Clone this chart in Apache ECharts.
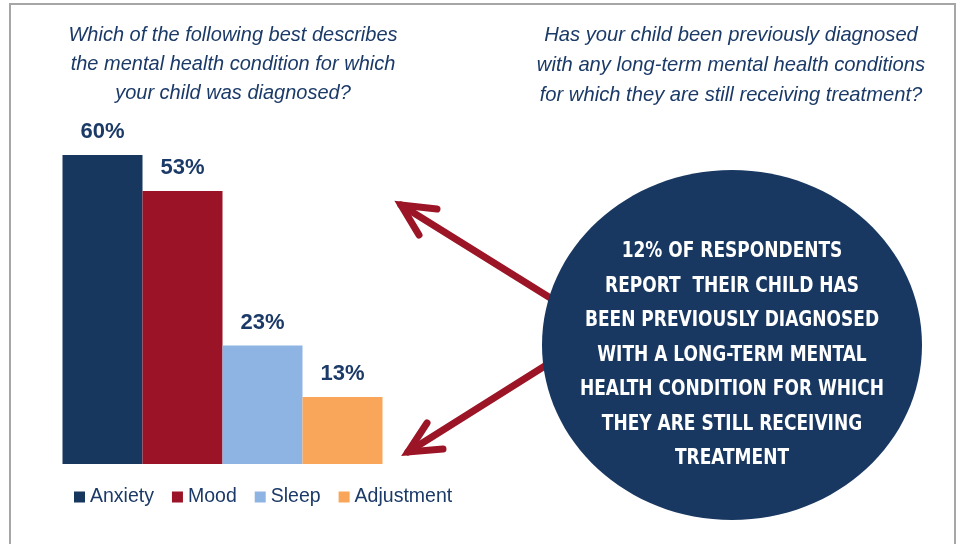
<!DOCTYPE html>
<html>
<head>
<meta charset="utf-8">
<script src="https://cdn.jsdelivr.net/npm/echarts@6/dist/echarts.min.js"></script>
<style>
  html, body { margin: 0; padding: 0; background: #fff; }
  #chart { width: 961px; height: 544px; }
</style>
</head>
<body>
<div id="chart"></div>
<script>
var categories = ['Diagnosed condition'];
var seriesNames = ['Anxiety', 'Mood', 'Sleep', 'Adjustment'];
var anxiety = [60];
var mood = [53];
var sleep = [23];
var adjustment = [13];
var colors = ['#17375e', '#9b1326', '#8eb4e3', '#f9a65a'];

var leftQuestion = 'Which of the following best describes\nthe mental health condition for which\nyour child was diagnosed?';
var rightQuestion = 'Has your child been previously diagnosed\nwith any long-term mental health conditions\nfor which they are still receiving treatment?';
var circleText = '12% OF RESPONDENTS\nREPORT  THEIR CHILD HAS\nBEEN PREVIOUSLY DIAGNOSED\nWITH A LONG-TERM MENTAL\nHEALTH CONDITION FOR WHICH\nTHEY ARE STILL RECEIVING\nTREATMENT';

var navy = '#1b3a68';
var arrowRed = '#9b1527';

var myChart = echarts.init(document.getElementById('chart'));

function makeSeries(name, data, color) {
  return {
    name: name,
    type: 'bar',
    data: data,
    barWidth: 80,
    barGap: '0%',
    itemStyle: { color: color },
    label: {
      show: true,
      position: 'top',
      distance: 12,
      formatter: '{c}%',
      color: navy,
      fontSize: 22,
      fontWeight: 'bold',
      fontFamily: 'Liberation Sans'
    }
  };
}

var option = {
  animation: false,
  backgroundColor: '#ffffff',
  color: colors,
  grid: { left: 62, top: 155, width: 321, bottom: 80 },
  xAxis: {
    type: 'category',
    data: categories,
    show: false
  },
  yAxis: {
    type: 'value',
    min: 0,
    max: 60,
    show: false
  },
  legend: {
    data: seriesNames,
    left: 74,
    top: 487,
    padding: 0,
    itemWidth: 11,
    itemHeight: 11,
    itemGap: 18,
    icon: 'rect',
    textStyle: { color: navy, fontSize: 19.5, fontFamily: 'Liberation Sans', padding: [0, 0, 0, 0] }
  },
  series: [
    makeSeries(seriesNames[0], anxiety, colors[0]),
    makeSeries(seriesNames[1], mood, colors[1]),
    makeSeries(seriesNames[2], sleep, colors[2]),
    makeSeries(seriesNames[3], adjustment, colors[3])
  ],
  graphic: [
    // frame
    {
      type: 'rect', z: 0,
      shape: { x: 10, y: 4, width: 945, height: 560 },
      style: { fill: 'none', stroke: '#a6a6a6', lineWidth: 2 }
    },
    {
      type: 'text', z: 10,
      style: {
        x: 233, y: 64, text: leftQuestion, textAlign: 'center', textVerticalAlign: 'middle',
        fill: navy, font: 'italic 20px "Liberation Sans"', lineHeight: 29
      }
    },
    {
      type: 'text', z: 10,
      style: {
        x: 731, y: 65, text: rightQuestion, textAlign: 'center', textVerticalAlign: 'middle',
        fill: navy, font: 'italic 20.2px "Liberation Sans"', lineHeight: 30
      }
    },
    // arrows
    {
      type: 'polyline', z: 5,
      shape: { points: [[552, 299], [401, 205]] },
      style: { stroke: arrowRed, lineWidth: 7, lineCap: 'round' }
    },
    {
      type: 'polyline', z: 5,
      shape: { points: [[437, 209], [401, 205], [419, 235]] },
      style: { stroke: arrowRed, lineWidth: 7, lineCap: 'round', lineJoin: 'miter', fill: 'none' }
    },
    {
      type: 'polyline', z: 5,
      shape: { points: [[548, 364], [408, 452]] },
      style: { stroke: arrowRed, lineWidth: 7, lineCap: 'round' }
    },
    {
      type: 'polyline', z: 5,
      shape: { points: [[443, 449], [408, 452], [427, 423]] },
      style: { stroke: arrowRed, lineWidth: 7, lineCap: 'round', lineJoin: 'miter', fill: 'none' }
    },
    // circle
    {
      type: 'ellipse', z: 6,
      shape: { cx: 732, cy: 345, rx: 190, ry: 175 },
      style: { fill: '#183861' }
    },
    {
      type: 'text', z: 7,
      x: 732, y: 355,
      scaleX: 0.86,
      style: {
        x: 0, y: 0, text: circleText, textAlign: 'center', textVerticalAlign: 'middle',
        fill: '#ffffff', font: 'bold 22px "DejaVu Sans Condensed", "DejaVu Sans", sans-serif',
        lineHeight: 34.5
      }
    }
  ]
};

myChart.setOption(option, true);
</script>
</body>
</html>
